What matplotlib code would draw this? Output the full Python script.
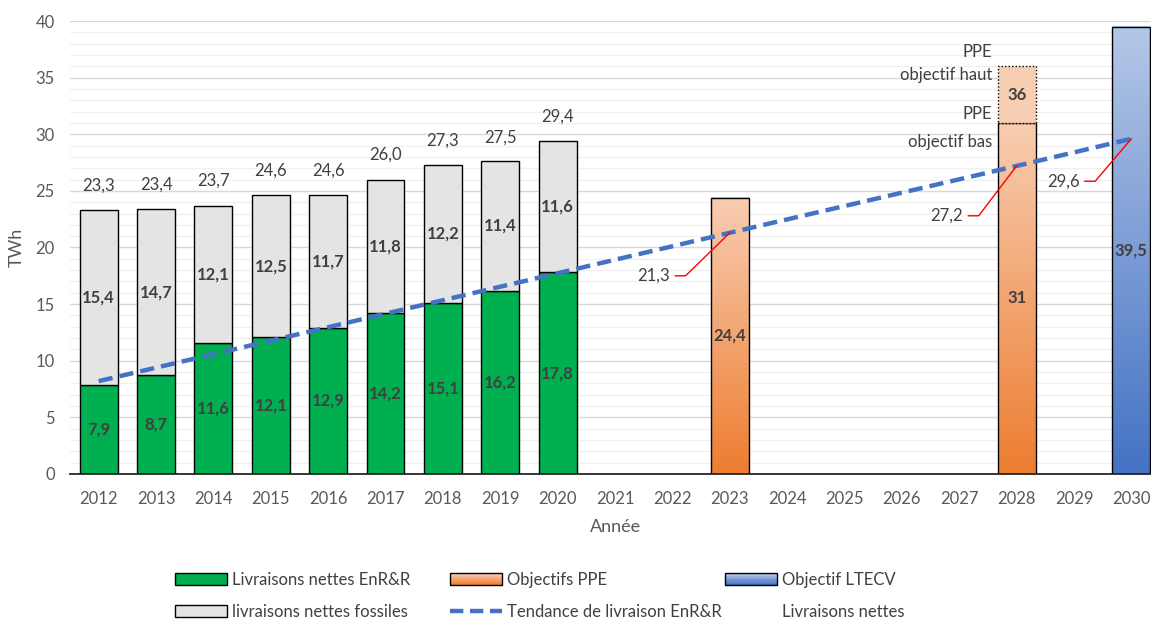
import matplotlib
matplotlib.use('Agg')
import matplotlib.pyplot as plt
import numpy as np
from matplotlib.patches import Patch, Rectangle
from matplotlib.lines import Line2D
from matplotlib.legend_handler import HandlerBase
from matplotlib.colors import LinearSegmentedColormap, to_rgb

plt.rcParams['font.family'] = ['Lato', 'DejaVu Sans']

# --- data (TWh) ---
years = list(range(2012, 2031))
hist_years = [2012, 2013, 2014, 2015, 2016, 2017, 2018, 2019, 2020]
enr = [7.9, 8.7, 11.6, 12.1, 12.9, 14.2, 15.1, 16.2, 17.8]
fossil = [15.4, 14.7, 12.1, 12.5, 11.7, 11.8, 12.2, 11.4, 11.6]
totals = [23.3, 23.4, 23.7, 24.6, 24.6, 26.0, 27.3, 27.5, 29.4]

ppe_years = [2023, 2028]
ppe_low = [24.4, 31]
ppe_high_year = 2028
ppe_high = 36
ltecv_year = 2030
ltecv = 39.5

trend_years = [2012, 2023, 2028, 2030]
trend_vals = [8.2, 21.3, 27.2, 29.6]
callout_years = [2023, 2028, 2030]
callout_vals = [21.3, 27.2, 29.6]

# --- style ---
GREEN = '#00B050'
GREY = '#E4E4E4'
ORANGE_TOP, ORANGE_BOT = '#F8CDB1', '#ED7D31'
BLUE_TOP, BLUE_BOT = '#B4C7E7', '#4472C4'
TREND = '#4472C4'
TXT = '#404040'
TICK = '#595959'
W = 0.66
FS = 12


def fmt(v):
    return f"{v:.1f}".replace('.', ',')


def gradient_bar(ax, x, height, c_top, c_bot, bottom=0):
    cmap = LinearSegmentedColormap.from_list('g', [c_bot, c_top])
    grad = np.linspace(0, 1, 256).reshape(-1, 1)
    ax.imshow(grad, extent=(x - W / 2, x + W / 2, bottom, bottom + height),
              origin='lower', aspect='auto', cmap=cmap, zorder=2)
    ax.bar(x, height, W, bottom=bottom, fill=False, edgecolor='black',
           linewidth=1, zorder=3)


class GradientHandler(HandlerBase):
    def __init__(self, c_top, c_bot):
        super().__init__()
        self.c_top = np.array(to_rgb(c_top))
        self.c_bot = np.array(to_rgb(c_bot))

    def create_artists(self, legend, orig_handle, xdescent, ydescent,
                       width, height, fontsize, trans):
        n = 10
        arts = []
        for i in range(n):
            t = i / (n - 1)
            c = self.c_bot * (1 - t) + self.c_top * t
            arts.append(Rectangle((-xdescent, -ydescent + i * height / n),
                                  width, height / n, facecolor=c,
                                  edgecolor='none', transform=trans))
        arts.append(Rectangle((-xdescent, -ydescent), width, height,
                              fill=False, edgecolor='black', linewidth=1,
                              transform=trans))
        return arts


fig = plt.figure(figsize=(11.51, 6.21), dpi=100)
ax = fig.add_axes([70 / 1151, 147 / 621, 1090 / 1151, 453 / 621])

# grid
ax.set_yticks(np.arange(0, 41, 5))
ax.set_yticks(np.arange(0, 41, 1), minor=True)
ax.grid(axis='y', which='major', color='#D9D9D9', linewidth=1, zorder=0)
ax.grid(axis='y', which='minor', color='#F0F0F0', linewidth=1, zorder=0)
ax.set_axisbelow(True)

# historical stacked bars
ax.bar(hist_years, enr, W, color=GREEN, edgecolor='black', linewidth=1, zorder=3)
ax.bar(hist_years, fossil, W, bottom=enr, color=GREY, edgecolor='black',
       linewidth=1, zorder=3)
for x, e, f, t in zip(hist_years, enr, fossil, totals):
    ax.text(x, e / 2, fmt(e), ha='center', va='center', fontsize=FS,
            fontweight='bold', color=TXT, zorder=6)
    ax.text(x, e + f / 2, fmt(f), ha='center', va='center', fontsize=FS,
            fontweight='bold', color=TXT, zorder=6)
    ax.annotate(fmt(t), (x, t), xytext=(0, 12), textcoords='offset points',
                ha='center', va='bottom', fontsize=FS, color=TXT)

# PPE objectives
for x, v in zip(ppe_years, ppe_low):
    gradient_bar(ax, x, v, ORANGE_TOP, ORANGE_BOT)
    lab = fmt(v) if v != int(v) else str(int(v))
    ax.text(x, v / 2, lab, ha='center', va='center', fontsize=FS,
            fontweight='bold', color=TXT, zorder=6)
low28 = ppe_low[ppe_years.index(ppe_high_year)]
ax.bar(ppe_high_year, ppe_high - low28, W, bottom=low28, color='#F8CEB2',
       edgecolor='black', linewidth=1, linestyle=(0, (1, 1.5)), zorder=3)
ax.text(ppe_high_year, (low28 + ppe_high) / 2, str(ppe_high), ha='center',
        va='center', fontsize=FS, fontweight='bold', color=TXT, zorder=6)
ax.annotate('PPE\nobjectif haut', (ppe_high_year - W / 2, ppe_high),
            xytext=(-4, 2), textcoords='offset points', ha='right',
            va='center', fontsize=FS, color=TXT, linespacing=1.5)
ax.annotate('PPE\nobjectif bas', (ppe_high_year - W / 2, low28),
            xytext=(-4, -3.5), textcoords='offset points', ha='right',
            va='center', fontsize=FS, color=TXT, linespacing=1.9)

# LTECV objective
gradient_bar(ax, ltecv_year, ltecv, BLUE_TOP, BLUE_BOT)
ax.text(ltecv_year, ltecv / 2, fmt(ltecv), ha='center', va='center',
        fontsize=FS, fontweight='bold', color=TXT, zorder=6)

# trend line
ax.plot(trend_years, trend_vals, color=TREND, linewidth=3.2,
        linestyle=(0, (3.2, 1.6)), zorder=4)

# red callouts (offsets in data units from the point)
knee_dx = [-0.77, -0.66, -0.63]
knee_dy = [-3.8, -4.4, -3.75]
for x, v, dx, dy in zip(callout_years, callout_vals, knee_dx, knee_dy):
    kx, ky = x + dx, v + dy
    ax.plot([x, kx, kx - 0.18], [v, ky, ky], color='red', linewidth=1,
            zorder=5)
    ax.text(kx - 0.27, ky, fmt(v), ha='right', va='center', fontsize=FS,
            color=TXT, zorder=6)

# axes
ax.set_xlim(2011.5, 2030.5)
ax.set_ylim(0, 40)
ax.set_xticks(years)
ax.set_xticklabels([str(y) for y in years])
ax.tick_params(axis='both', which='both', length=0, labelsize=FS,
               labelcolor=TICK)
ax.tick_params(axis='x', pad=12)
ax.tick_params(axis='y', pad=11)
for s in ['top', 'right', 'left']:
    ax.spines[s].set_visible(False)
ax.spines['bottom'].set_color('#262626')
ax.spines['bottom'].set_linewidth(1.3)
ax.spines['bottom'].set_zorder(5)
ax.set_xlabel('Année', fontsize=13, color=TICK, labelpad=9)
ax.set_ylabel('TWh', fontsize=13, color=TICK, labelpad=8)

# legend: three columns placed like the original
h_green = Patch(facecolor=GREEN, edgecolor='black')
h_grey = Patch(facecolor=GREY, edgecolor='black')
h_ppe = Patch(facecolor=ORANGE_BOT, edgecolor='black')
h_ltecv = Patch(facecolor=BLUE_BOT, edgecolor='black')
h_trend = Line2D([], [], color=TREND, linewidth=3.2, linestyle=(0, (3.0, 1.5)))
h_none = Patch(facecolor='none', edgecolor='none')
hmap = {h_ppe: GradientHandler(ORANGE_TOP, ORANGE_BOT),
        h_ltecv: GradientHandler(BLUE_TOP, BLUE_BOT)}
cols = [([h_green, h_grey], ['Livraisons nettes EnR&R', 'livraisons nettes fossiles'], 175),
        ([h_ppe, h_trend], ['Objectifs PPE', 'Tendance de livraison EnR&R'], 450),
        ([h_ltecv, h_none], ['Objectif LTECV', 'Livraisons nettes'], 725)]
for hs, ls, xpx in cols:
    fig.legend(hs, ls, loc='center left', bbox_to_anchor=(xpx / 1151, 25 / 621),
               frameon=False, fontsize=FS, borderpad=0, borderaxespad=0,
               handlelength=3.1, handleheight=0.75, handletextpad=0.3,
               labelspacing=0.95, labelcolor=TXT, handler_map=hmap)

fig.savefig('out.png', dpi=100)
